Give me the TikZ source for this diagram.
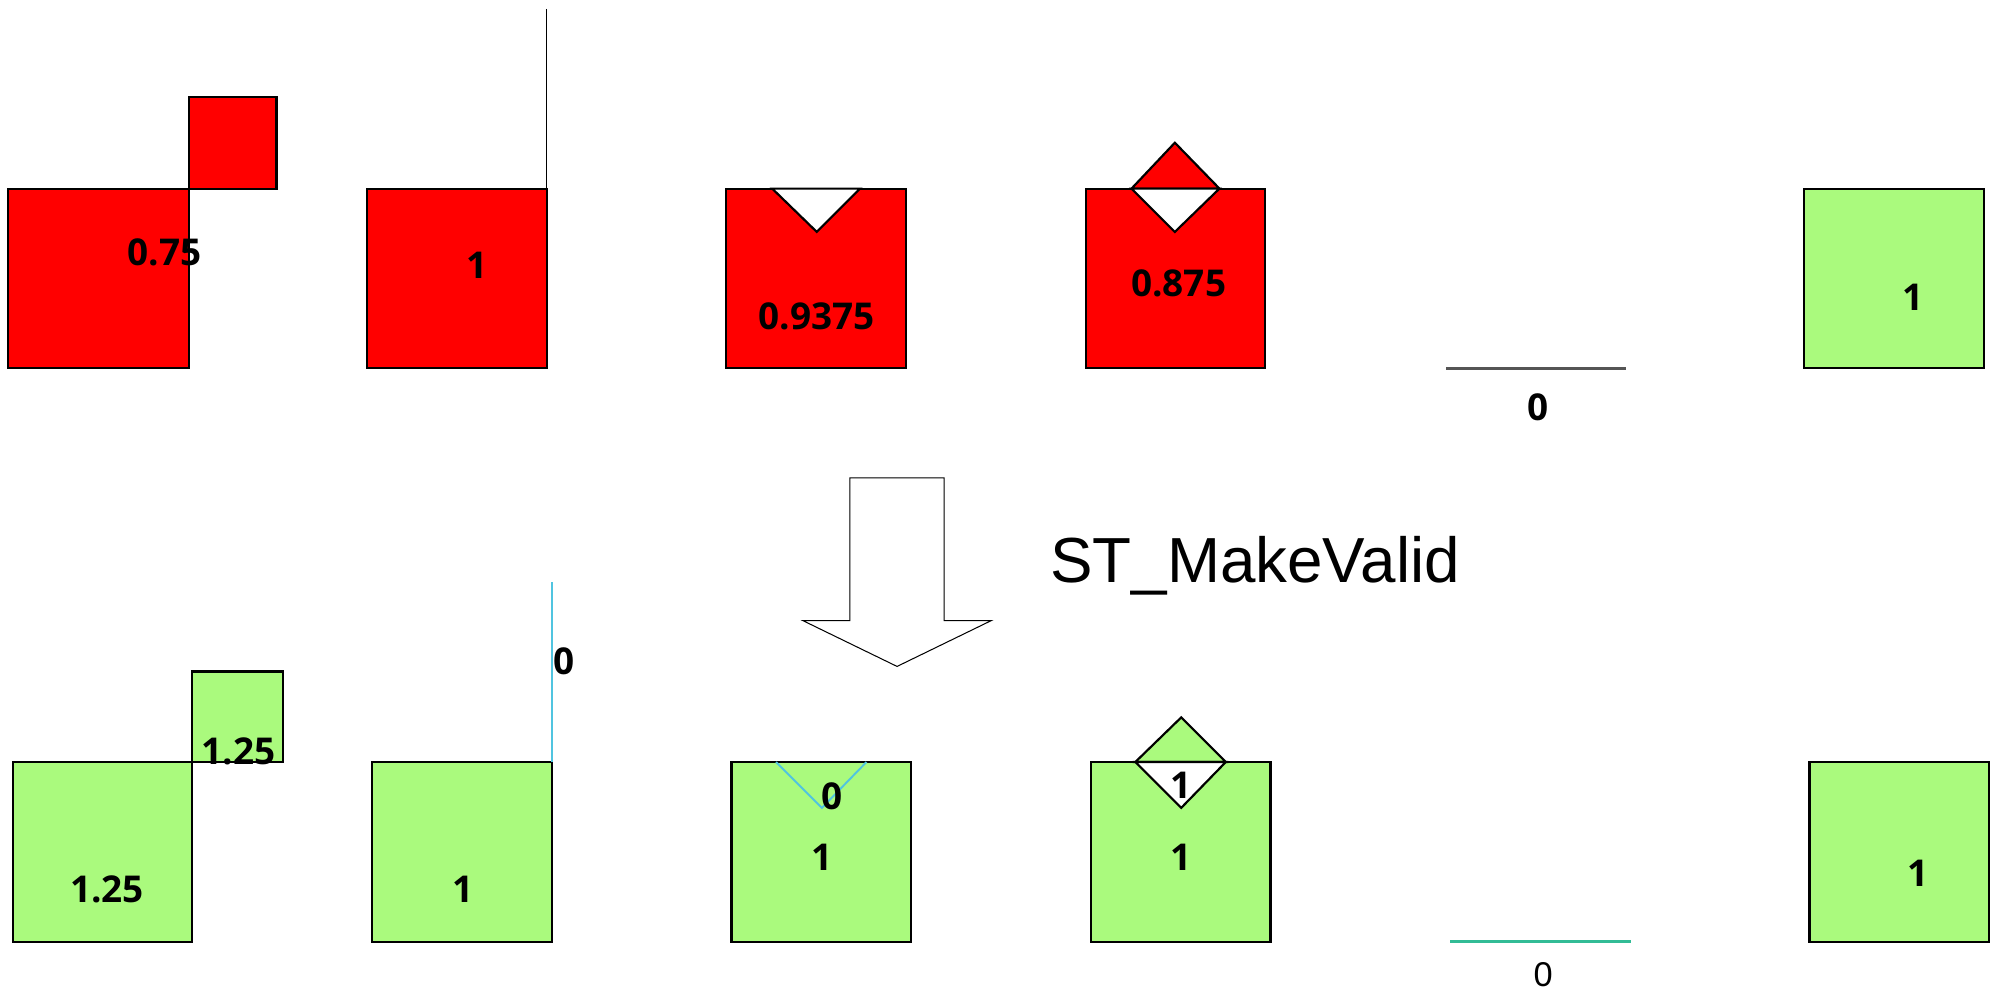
\documentclass[tikz,border=0pt]{standalone}
\usepackage{fontspec}
\setmainfont{Liberation Sans}
\newfontfamily\labelfont{Open Sans}
\usetikzlibrary{arrows.meta}

\definecolor{validGreen}{RGB}{170,250,125}
\definecolor{lineCyan}{RGB}{80,196,224}
\definecolor{lineTeal}{RGB}{50,188,150}
\definecolor{lineGray}{RGB}{85,85,85}

\begin{document}
\begin{tikzpicture}[x=1pt,y=-1pt,
        redPoly/.style = {fill=red,draw=black,line width=1.7pt},
        greenPoly/.style = {fill=validGreen,draw=black,line width=1.7pt},
        holePoly/.style = {fill=white,draw=black,line width=1.7pt},
        valLabel/.style = {font=\labelfont\bfseries\fontsize{29}{32}\selectfont,inner sep=0pt},
        plainLabel/.style = {font=\fontsize{27}{30}\selectfont,inner sep=0pt},
        bigArrow/.style = {fill=white,draw=black,line width=0.8pt},
        titleText/.style = {font=\fontsize{50}{56}\selectfont,inner sep=0pt}
        ]
    \useasboundingbox (0,0) rectangle (1568,779.3);

    % invalid input row
    \draw[redPoly] (6,148) rectangle (148,289);
    \draw[redPoly] (148,76) rectangle (217,148);
    \node[valLabel] (inOne) at (129,198) {0.75};

    \draw[redPoly] (288,148) rectangle (429,289);
    \draw[black,line width=1.3pt] (429,7) -- (429,148);
    \node[valLabel] (inTwo) at (374,208) {1};

    \draw[redPoly] (570,148) rectangle (711,289);
    \draw[holePoly] (606,148) -- (675,148) -- (641,182) -- cycle;
    \node[valLabel] (inThree) at (641,248) {0.9375};

    \draw[redPoly] (852,148) rectangle (993,289);
    \draw[redPoly] (888,148) -- (922,112) -- (957,148) -- cycle;
    \draw[holePoly] (888,148) -- (957,148) -- (922,182) -- cycle;
    \node[valLabel] (inFour) at (925,222) {0.875};

    \draw[lineGray,line width=2.2pt] (1135,289) -- (1276,289);
    \node[valLabel] (inFive) at (1207,320) {0};

    \draw[greenPoly] (1416,148) rectangle (1557,289);
    \node[valLabel] (inSix) at (1501,233) {1};

    % the operation
    \draw[bigArrow] (667,375) -- (741,375) -- (741,487) -- (778,487)
        -- (704,523) -- (630,487) -- (667,487) -- cycle;
    \node[titleText] (opName) at (985,444) {ST\_MakeValid};

    % valid output row
    \draw[greenPoly] (10,598) rectangle (151,739);
    \draw[greenPoly] (151,527) rectangle (222,598);
    \node[valLabel] (outOne) at (84,698) {1.25};
    \node[valLabel] (outOneB) at (187,590) {1.25};

    \draw[greenPoly] (292,598) rectangle (433,739);
    \draw[lineCyan,line width=1.5pt] (433,457) -- (433,598);
    \node[valLabel] (outTwoB) at (443,519) {0};
    \node[valLabel] (outTwo) at (363,698) {1};

    \draw[greenPoly] (574,598) rectangle (715,739);
    \draw[lineCyan,line width=1.5pt] (609,598) -- (645,634) -- (680,598);
    \node[valLabel] (outThreeB) at (653,625) {0};
    \node[valLabel] (outThree) at (645,673) {1};

    \draw[greenPoly] (856,598) rectangle (997,739);
    \draw[greenPoly] (891,598) -- (927,563) -- (962,598) -- cycle;
    \draw[holePoly] (891,598) -- (962,598) -- (927,634) -- cycle;
    \node[valLabel] (outFourB) at (927,616) {1};
    \node[valLabel] (outFour) at (927,673) {1};

    \draw[lineTeal,line width=2.6pt] (1138,739) -- (1280,739);
    \node[plainLabel] (outFive) at (1211,765) {0};

    \draw[greenPoly] (1420,598) rectangle (1561,739);
    \node[valLabel] (outSix) at (1505,685) {1};
\end{tikzpicture}
\end{document}
